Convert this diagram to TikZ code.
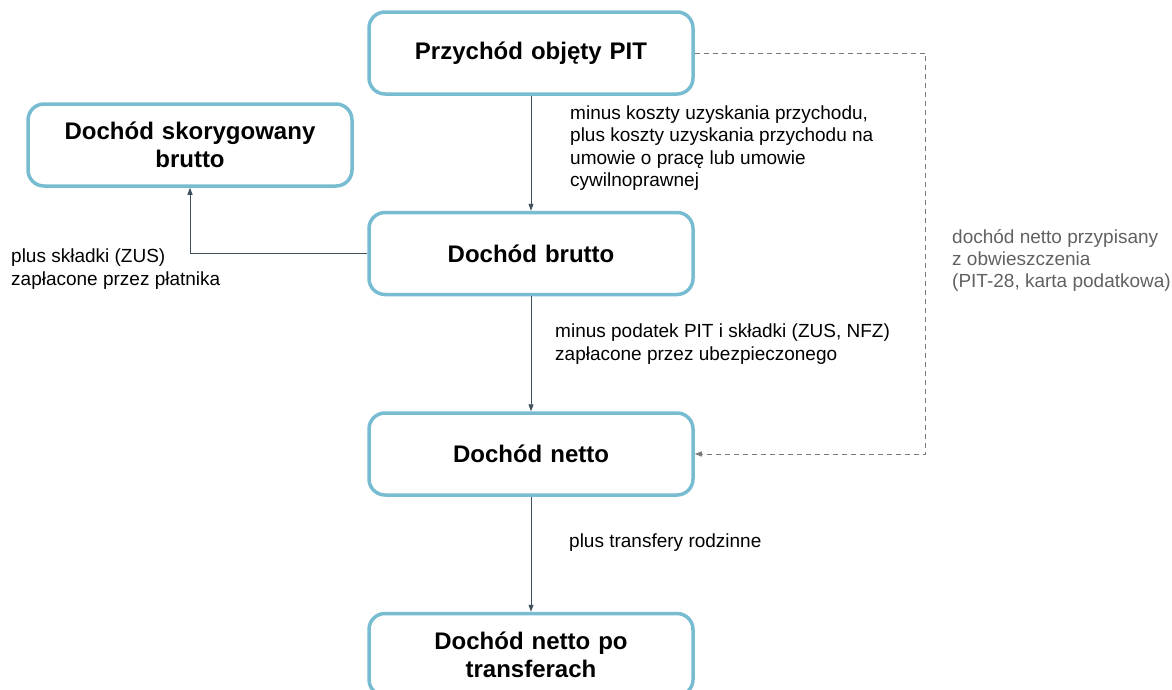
\documentclass[tikz,border=0pt]{standalone}
\usepackage{fontspec}
\setmainfont{Liberation Sans}
\usepackage{xcolor}
\usepackage{tikz}
\usetikzlibrary{arrows.meta,positioning,shapes}
\definecolor{boxblue}{HTML}{78BCD2}
\definecolor{flowdark}{HTML}{3F525C}
\definecolor{dashgray}{HTML}{7A7A7A}
\definecolor{notegray}{HTML}{616161}

\begin{document}
\begin{tikzpicture}[x=1pt, y=-1pt, node distance=115pt,
    box/.style={rectangle, rounded corners=16pt, draw=boxblue, line width=3.5pt, fill=white,
      text width=300pt, align=center, minimum width=324pt, minimum height=82pt,
      font=\fontsize{24}{28}\selectfont\bfseries},
    note/.style={align=left, inner sep=0pt, anchor=west, font=\fontsize{19}{22.5}\selectfont},
    arrow/.style={-{Triangle[length=7pt, width=5pt]}, flowdark, line width=0.9pt},
    dasharrow/.style={-{Triangle[length=7pt, width=5pt]}, dashgray, dashed, dash pattern=on 5pt off 4pt, line width=0.9pt}]

\useasboundingbox (0,0) rectangle (1172,689);

\node[box] (P) at (531,53) {Przychód objęty PIT};
\node[box, below=of P] (B) {Dochód brutto};
\node[box, below=of B] (N) {Dochód netto};
\node[box, below=of N] (T) {Dochód netto po\\transferach};
\node[box] (S) at (190,145) {Dochód skorygowany\\brutto};

\draw[arrow] (P) -- (B);
\draw[arrow] (B) -- (N);
\draw[arrow] (N) -- (T);
\draw[arrow] (B.west) -| (S.south);
\draw[dasharrow] (P.east) -- ++(231,0) |- (N.east);

\node[note] (kup) at (570,148) {minus koszty uzyskania przychodu,\\plus koszty uzyskania przychodu na\\umowie o pracę lub umowie\\cywilnoprawnej};
\node[note] (zus) at (11,269) {plus składki (ZUS)\\zapłacone przez płatnika};
\node[note] (pit) at (555,344) {minus podatek PIT i składki (ZUS, NFZ)\\zapłacone przez ubezpieczonego};
\node[note] (rodz) at (569,543) {plus transfery rodzinne};
\node[note, text=notegray, font=\fontsize{19}{22}\selectfont] (obw) at (952,260) {dochód netto przypisany\\z obwieszczenia\\(PIT-28, karta podatkowa)};
\end{tikzpicture}
\end{document}
